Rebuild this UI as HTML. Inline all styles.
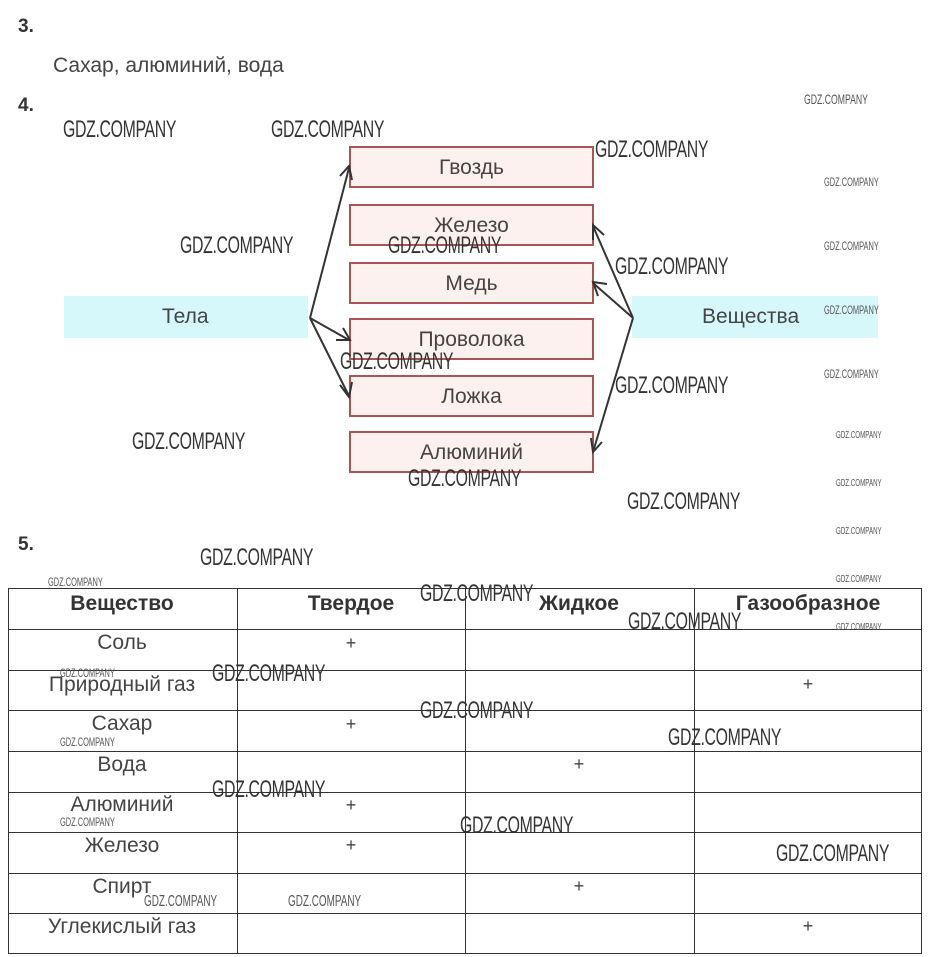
<!DOCTYPE html>
<html><head><meta charset="utf-8"><style>
body{margin:0;background:#fff;width:932px;height:957px;position:relative;overflow:hidden;font-family:"Liberation Sans",sans-serif;color:#333}
.a{position:absolute}
.box{position:absolute;left:349px;width:241px;height:38px;border:2px solid #a85555;background:#fdf1ef;font-size:21px;text-align:center;line-height:40px;color:#444}
.band{position:absolute;top:296px;height:42px;background:#d6f8fb;font-size:21px;line-height:42px;color:#444}
.w{position:absolute;font-size:24px;color:#333;transform:scaleX(0.66);transform-origin:0 0;white-space:nowrap;letter-spacing:-0.5px}
.ws{position:absolute;font-size:12px;color:#555;transform:scaleX(0.62);transform-origin:0 0;white-space:nowrap}
.h{position:absolute;left:8px;width:914px;height:1px;background:#333}
.v{position:absolute;top:588px;width:1px;height:366px;background:#333}
.t{position:absolute;width:228px;text-align:center;font-size:21px;color:#444;line-height:24px}
.th{font-weight:bold;color:#333}
.p{position:absolute;width:228px;text-align:center;font-size:18px;color:#444;line-height:20px}
</style></head><body>
<div class="a" style="left:18px;top:16px;font-size:19px;font-weight:bold">3.</div>
<div class="a" style="left:53px;top:54px;font-size:21px;color:#444">Сахар, алюминий, вода</div>
<div class="a" style="left:18px;top:95px;font-size:19px;font-weight:bold">4.</div>
<div class="a" style="left:18px;top:534px;font-size:19px;font-weight:bold">5.</div>

<div class="band" style="left:64px;width:244px;text-indent:98px">Тела</div>
<div class="band" style="left:632px;width:246px;text-indent:70px">Вещества</div>

<div class="box" style="top:146px">Гвоздь</div>
<div class="box" style="top:204px">Железо</div>
<div class="box" style="top:262px">Медь</div>
<div class="box" style="top:318px">Проволока</div>
<div class="box" style="top:375px">Ложка</div>
<div class="box" style="top:431px">Алюминий</div>

<svg class="a" style="left:0;top:0" width="932" height="957">
<g stroke="#333" stroke-width="2" fill="none">
<path d="M310 318 L349 168 M340 176 L349 166 L352 180"/>
<path d="M310 318 L349 340 M336 340 L350 340 L343 328"/>
<path d="M310 318 L349 396 M340 385 L349 397 L352 382"/>
<path d="M633 318 L593 226 M593 240 L593 225 L604 235"/>
<path d="M633 318 L593 283 M598 296 L593 282 L607 284"/>
<path d="M633 318 L593 452 M591 438 L593 452 L602 442"/>
</g></svg>

<div class="h" style="top:588px"></div>
<div class="h" style="top:629px"></div>
<div class="h" style="top:670px"></div>
<div class="h" style="top:710px"></div>
<div class="h" style="top:751px"></div>
<div class="h" style="top:792px"></div>
<div class="h" style="top:832px"></div>
<div class="h" style="top:873px"></div>
<div class="h" style="top:913px"></div>
<div class="h" style="top:953px"></div>
<div class="v" style="left:8px"></div>
<div class="v" style="left:237px"></div>
<div class="v" style="left:465px"></div>
<div class="v" style="left:694px"></div>
<div class="v" style="left:921px"></div>

<div class="t th" style="left:8px;top:592px">Вещество</div>
<div class="t th" style="left:237px;top:592px">Твердое</div>
<div class="t th" style="left:465px;top:592px">Жидкое</div>
<div class="t th" style="left:694px;top:592px">Газообразное</div>
<div class="t" style="left:8px;top:631px">Соль</div>
<div class="t" style="left:8px;top:673px">Природный газ</div>
<div class="t" style="left:8px;top:712px">Сахар</div>
<div class="t" style="left:8px;top:753px">Вода</div>
<div class="t" style="left:8px;top:793px">Алюминий</div>
<div class="t" style="left:8px;top:834px">Железо</div>
<div class="t" style="left:8px;top:875px">Спирт</div>
<div class="t" style="left:8px;top:915px">Углекислый газ</div>
<div class="p" style="left:237px;top:633px">+</div>
<div class="p" style="left:694px;top:674px">+</div>
<div class="p" style="left:237px;top:714px">+</div>
<div class="p" style="left:465px;top:754px">+</div>
<div class="p" style="left:237px;top:795px">+</div>
<div class="p" style="left:237px;top:835px">+</div>
<div class="p" style="left:465px;top:876px">+</div>
<div class="p" style="left:694px;top:916px">+</div>

<div class="w" style="left:63px;top:116px">GDZ.COMPANY</div>
<div class="w" style="left:271px;top:116px">GDZ.COMPANY</div>
<div class="w" style="left:595px;top:136px">GDZ.COMPANY</div>
<div class="w" style="left:180px;top:232px">GDZ.COMPANY</div>
<div class="w" style="left:388px;top:232px">GDZ.COMPANY</div>
<div class="w" style="left:615px;top:253px">GDZ.COMPANY</div>
<div class="w" style="left:340px;top:348px">GDZ.COMPANY</div>
<div class="w" style="left:615px;top:372px">GDZ.COMPANY</div>
<div class="w" style="left:132px;top:428px">GDZ.COMPANY</div>
<div class="w" style="left:408px;top:465px">GDZ.COMPANY</div>
<div class="w" style="left:627px;top:488px">GDZ.COMPANY</div>
<div class="w" style="left:200px;top:544px">GDZ.COMPANY</div>
<div class="w" style="left:420px;top:580px">GDZ.COMPANY</div>
<div class="w" style="left:628px;top:608px">GDZ.COMPANY</div>
<div class="w" style="left:212px;top:660px">GDZ.COMPANY</div>
<div class="w" style="left:420px;top:697px">GDZ.COMPANY</div>
<div class="w" style="left:668px;top:724px">GDZ.COMPANY</div>
<div class="w" style="left:212px;top:776px">GDZ.COMPANY</div>
<div class="w" style="left:460px;top:812px">GDZ.COMPANY</div>
<div class="w" style="left:776px;top:840px">GDZ.COMPANY</div>
<div class="ws" style="left:804px;top:91px;font-size:14px">GDZ.COMPANY</div>
<div class="ws" style="left:824px;top:175px">GDZ.COMPANY</div>
<div class="ws" style="left:824px;top:239px">GDZ.COMPANY</div>
<div class="ws" style="left:824px;top:303px">GDZ.COMPANY</div>
<div class="ws" style="left:824px;top:367px">GDZ.COMPANY</div>
<div class="ws" style="left:836px;top:430px;font-size:10px">GDZ.COMPANY</div>
<div class="ws" style="left:836px;top:478px;font-size:10px">GDZ.COMPANY</div>
<div class="ws" style="left:836px;top:526px;font-size:10px">GDZ.COMPANY</div>
<div class="ws" style="left:836px;top:574px;font-size:10px">GDZ.COMPANY</div>
<div class="ws" style="left:836px;top:622px;font-size:10px">GDZ.COMPANY</div>
<div class="ws" style="left:48px;top:575px">GDZ.COMPANY</div>
<div class="ws" style="left:60px;top:666px">GDZ.COMPANY</div>
<div class="ws" style="left:60px;top:735px">GDZ.COMPANY</div>
<div class="ws" style="left:60px;top:815px">GDZ.COMPANY</div>
<div class="ws" style="left:144px;top:893px;font-size:16px">GDZ.COMPANY</div>
<div class="ws" style="left:288px;top:893px;font-size:16px">GDZ.COMPANY</div>
</body></html>
